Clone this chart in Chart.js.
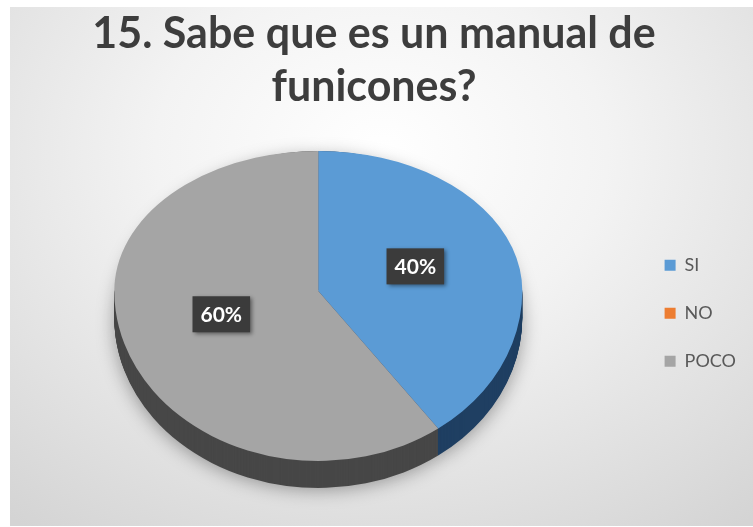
<!DOCTYPE html>
<html>
<head>
<meta charset="utf-8">
<title>15. Sabe que es un manual de funicones?</title>
<script src="https://cdn.jsdelivr.net/npm/chart.js@4.4.1/dist/chart.umd.min.js"></script>
<style>
  html, body { margin: 0; padding: 0; background: #fff; }
  #frame {
    position: absolute; left: 10px; top: 7px; width: 743px; height: 519px;
    background: radial-gradient(ellipse 80% 90% at 50% 28%, #ffffff 0%, #f3f3f3 38%, #d4d4d4 100%);
  }
  #box { position: absolute; left: 2px; top: 7px; width: 751px; height: 519px; }
</style>
</head>
<body>
<div id="frame"></div>
<div id="box"><canvas id="pieGraph"></canvas></div>
<script>
// answers to question 15 (share of people, in %)
var categories = ["SI", "NO", "POCO"];
var responses = [40, 0, 60];
var sliceColors = ["#5B9BD5", "#ED7D31", "#A5A5A5"];
var sideColors = ["#1f3f62", "#9c4f1c", "#474747"];

// look of the tilted pie (pixels)
var PIE_RX = 204;        // horizontal radius
var PIE_RY_BACK = 140;   // far half, squashed by the tilt
var PIE_RY_FRONT = 170;  // near half
var PIE_DEPTH = 27;      // thickness of the disc
var PIE_LIFT = 22;       // vertex sits a bit above the middle of the area

function pieFrame(chart) {
    var meta = chart.getDatasetMeta(0);
    var a = meta.data[0];
    var r = a.outerRadius;
    return {
        meta: meta,
        r: r,
        cx: a.x,
        cy: a.y,
        vy: Math.round(a.y - PIE_LIFT),   // whole pixel so the two halves meet cleanly
        sx: PIE_RX / r,
        syBack: PIE_RY_BACK / r,
        syFront: PIE_RY_FRONT / r
    };
}

function drawArcs(ctx, meta, colors) {
    meta.data.forEach(function (el, i) {
        if (colors) {
            var copy = Object.create(el);
            copy.options = Object.assign({}, el.options, { backgroundColor: colors[i] });
            el.draw.call(copy, ctx);
        } else {
            el.draw(ctx);
        }
    });
}

// draws one half of the disc (far or near) shifted down by dy
function drawHalf(chart, f, far, dy, colors) {
    var ctx = chart.ctx;
    ctx.save();
    ctx.beginPath();
    if (far) ctx.rect(0, 0, chart.width, f.vy + dy);
    else ctx.rect(0, f.vy + dy - 1, chart.width, chart.height);
    ctx.clip();
    ctx.translate(f.cx, f.vy + dy);
    ctx.scale(f.sx, far ? f.syBack : f.syFront);
    ctx.translate(-f.cx, -f.cy);
    drawArcs(ctx, f.meta, colors);
    ctx.restore();
}

// blurred shadow cast by the disc; the disc itself stays hidden behind the pie
function drawShadow(chart, f) {
    var ctx = chart.ctx;
    ctx.save();
    ctx.shadowColor = "rgba(0,0,0,0.35)";
    ctx.shadowBlur = 18;
    ctx.shadowOffsetY = 5;
    ctx.translate(f.cx, f.vy + PIE_DEPTH);
    ctx.scale(f.sx, (PIE_RY_BACK + PIE_DEPTH) / f.r);
    ctx.translate(-f.cx, -f.cy);
    drawArcs(ctx, f.meta, sideColors);
    ctx.restore();
}

var tiltedPie = {
    id: "tiltedPie",
    beforeDatasetsDraw: function (chart) {
        var f = pieFrame(chart);
        drawShadow(chart, f);
        for (var d = PIE_DEPTH; d >= 1; d--) {
            drawHalf(chart, f, false, d, sideColors);
        }
        drawHalf(chart, f, true, 0, null);
        drawHalf(chart, f, false, 0, null);
        return false;
    },
    afterDraw: function (chart) {
        var f = pieFrame(chart);
        var ctx = chart.ctx;
        var total = responses.reduce(function (s, v) { return s + v; }, 0);
        ctx.save();
        ctx.font = "bold 21px Lato";
        ctx.textAlign = "center";
        ctx.textBaseline = "middle";
        f.meta.data.forEach(function (el, i) {
            if (!responses[i]) return;
            var p = el.getCenterPoint();
            var dx = p.x - f.cx, dy = p.y - f.cy;
            var x = f.cx + dx * f.sx;
            var y = f.vy + dy * (dy < 0 ? f.syBack : f.syFront) - 3;
            var txt = Math.round(responses[i] / total * 100) + "%";
            var w = ctx.measureText(txt).width + 16, h = 36;
            ctx.save();
            ctx.shadowColor = "rgba(0,0,0,0.45)";
            ctx.shadowBlur = 4;
            ctx.shadowOffsetX = 2;
            ctx.shadowOffsetY = 2;
            ctx.fillStyle = "#3b3b3b";
            ctx.fillRect(x - w / 2, y - h / 2, w, h);
            ctx.restore();
            ctx.fillStyle = "#ffffff";
            ctx.fillText(txt, x, y + 1);
        });
        ctx.restore();
    }
};

var pieConfig = {
    type: "pie",
    data: {
        labels: categories,
        datasets: [{
            data: responses,
            backgroundColor: sliceColors,
            borderWidth: 0
        }]
    },
    options: {
        responsive: true,
        maintainAspectRatio: false,
        animation: false,
        layout: { padding: { left: 0, right: 7, top: 0, bottom: 19 } },
        plugins: {
            title: {
                display: true,
                text: ["15. Sabe que es un manual de", "funicones?"],
                color: "#3d3d3d",
                font: { family: "Lato", size: 43, weight: "bold", lineHeight: 1.24 },
                padding: { top: 0, bottom: 6 }
            },
            legend: {
                position: "right",
                fullSize: false,
                labels: {
                    boxWidth: 11,
                    boxHeight: 11,
                    padding: 30,
                    color: "#595959",
                    font: { family: "Lato", size: 18 }
                }
            },
            tooltip: { enabled: false }
        }
    },
    plugins: [tiltedPie]
};

var pieCtx = document.getElementById("pieGraph");
var pieChart = new Chart(pieCtx, pieConfig);
</script>
</body>
</html>
